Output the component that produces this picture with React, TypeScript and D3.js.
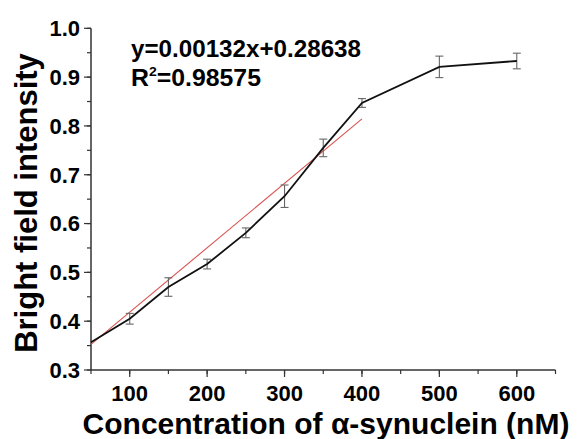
import React, { useEffect, useRef } from "react";
import * as d3 from "d3";

// Measured data (concentration in nM)
const concentrations = [50, 100, 150, 200, 250, 300, 350, 400, 500, 600];
const intensity = [0.357, 0.405, 0.470, 0.517, 0.581, 0.656, 0.755, 0.847, 0.921, 0.933];
const errors = [0, 0.011, 0.019, 0.010, 0.010, 0.023, 0.018, 0.009, 0.022, 0.016];

// Linear fit over 50-400 nM
const fitRange = [50, 400];
const slope = 0.00132;
const intercept = 0.28638;

const xTicks = [100, 200, 300, 400, 500, 600];
const yTicks = [0.3, 0.4, 0.5, 0.6, 0.7, 0.8, 0.9, 1.0];

export default function App() {
  const svgRef = useRef<SVGSVGElement | null>(null);

  useEffect(() => {
    const width = 583;
    const height = 439;
    const font = "'Liberation Sans', Arial, sans-serif";

    const x = d3.scaleLinear().domain([50, 650]).range([91, 555.5]);
    const y = d3.scaleLinear().domain([0.3, 1.0]).range([370, 28.3]);

    const svg = d3.select(svgRef.current)
      .attr("width", width)
      .attr("height", height)
      .attr("viewBox", [0, 0, width, height])
      .style("display", "block")
      .style("background", "#fff");

    svg.selectAll("*").remove();

    const axisColor = "#333";

    // y axis
    const yMinor = d3.range(0.3, 1.0001, 0.05);
    const gy = svg.append("g");
    gy.append("line")
      .attr("x1", x(50)).attr("x2", x(50))
      .attr("y1", y(0.3)).attr("y2", y(1.0))
      .attr("stroke", axisColor).attr("stroke-width", 1.5);
    gy.selectAll("line.minor").data(yMinor).join("line")
      .attr("class", "minor")
      .attr("x1", x(50)).attr("x2", x(50) - 4)
      .attr("y1", d => y(d)).attr("y2", d => y(d))
      .attr("stroke", axisColor).attr("stroke-width", 1.2);
    gy.selectAll("line.major").data(yTicks).join("line")
      .attr("class", "major")
      .attr("x1", x(50)).attr("x2", x(50) - 7)
      .attr("y1", d => y(d)).attr("y2", d => y(d))
      .attr("stroke", axisColor).attr("stroke-width", 1.2);
    gy.selectAll("text").data(yTicks).join("text")
      .attr("x", x(50) - 11)
      .attr("y", d => y(d))
      .attr("dy", "0.36em")
      .attr("text-anchor", "end")
      .attr("font-family", font)
      .attr("font-weight", "bold")
      .attr("font-size", 22)
      .text(d => d.toFixed(1));

    // x axis
    const xMinor = d3.range(50, 650.001, 50);
    const gx = svg.append("g");
    gx.append("line")
      .attr("x1", x(50)).attr("x2", x(650))
      .attr("y1", y(0.3)).attr("y2", y(0.3))
      .attr("stroke", axisColor).attr("stroke-width", 1.5);
    gx.selectAll("line.minor").data(xMinor).join("line")
      .attr("class", "minor")
      .attr("x1", d => x(d)).attr("x2", d => x(d))
      .attr("y1", y(0.3)).attr("y2", y(0.3) + 4)
      .attr("stroke", axisColor).attr("stroke-width", 1.2);
    gx.selectAll("line.major").data(xTicks).join("line")
      .attr("class", "major")
      .attr("x1", d => x(d)).attr("x2", d => x(d))
      .attr("y1", y(0.3)).attr("y2", y(0.3) + 7)
      .attr("stroke", axisColor).attr("stroke-width", 1.2);
    gx.selectAll("text").data(xTicks).join("text")
      .attr("x", d => x(d))
      .attr("y", 401)
      .attr("text-anchor", "middle")
      .attr("font-family", font)
      .attr("font-weight", "bold")
      .attr("font-size", 22)
      .text(d => d);

    // axis titles
    svg.append("text")
      .attr("x", 326)
      .attr("y", 434)
      .attr("text-anchor", "middle")
      .attr("font-family", font)
      .attr("font-weight", "bold")
      .attr("font-size", 30)
      .text("Concentration of α-synuclein (nM)");

    svg.append("text")
      .attr("transform", `translate(37,203) rotate(-90)`)
      .attr("text-anchor", "middle")
      .attr("font-family", font)
      .attr("font-weight", "bold")
      .attr("font-size", 31)
      .text("Bright field intensity");

    // fit line
    svg.append("line")
      .attr("x1", x(fitRange[0])).attr("y1", y(slope * fitRange[0] + intercept))
      .attr("x2", x(fitRange[1])).attr("y2", y(slope * fitRange[1] + intercept))
      .attr("stroke", "#d9534f")
      .attr("stroke-width", 1.1);

    // error bars
    const points = concentrations.map((c, i) => ({ c, v: intensity[i], e: errors[i] }));
    const gErr = svg.append("g")
      .attr("stroke", "#666")
      .attr("stroke-width", 1.1);
    points.filter(d => d.e > 0).forEach(d => {
      gErr.append("line")
        .attr("x1", x(d.c)).attr("x2", x(d.c))
        .attr("y1", y(d.v - d.e)).attr("y2", y(d.v + d.e));
      [d.v - d.e, d.v + d.e].forEach(v => {
        gErr.append("line")
          .attr("x1", x(d.c) - 4).attr("x2", x(d.c) + 4)
          .attr("y1", y(v)).attr("y2", y(v));
      });
    });

    // data line
    const line = d3.line<{ c: number; v: number }>()
      .x(d => x(d.c))
      .y(d => y(d.v));
    svg.append("path")
      .datum(points)
      .attr("fill", "none")
      .attr("stroke", "#111")
      .attr("stroke-width", 1.8)
      .attr("d", line);

    // equation
    svg.append("text")
      .attr("x", 131)
      .attr("y", 57)
      .attr("font-family", font)
      .attr("font-weight", "bold")
      .attr("font-size", 23)
      .attr("textLength", 230)
      .attr("lengthAdjust", "spacingAndGlyphs")
      .text(`y=${slope}x+${intercept}`);

    const r2 = svg.append("text")
      .attr("x", 131)
      .attr("y", 86)
      .attr("font-family", font)
      .attr("font-weight", "bold")
      .attr("font-size", 23)
      .attr("textLength", 130)
      .attr("lengthAdjust", "spacingAndGlyphs");
    r2.append("tspan").text("R");
    r2.append("tspan").attr("font-size", 13).attr("dy", -10).text("2");
    r2.append("tspan").attr("dy", 10).text("=0.98575");
  }, []);

  return <svg ref={svgRef} style={{ position: "absolute", left: 0, top: 0 }} />;
}
